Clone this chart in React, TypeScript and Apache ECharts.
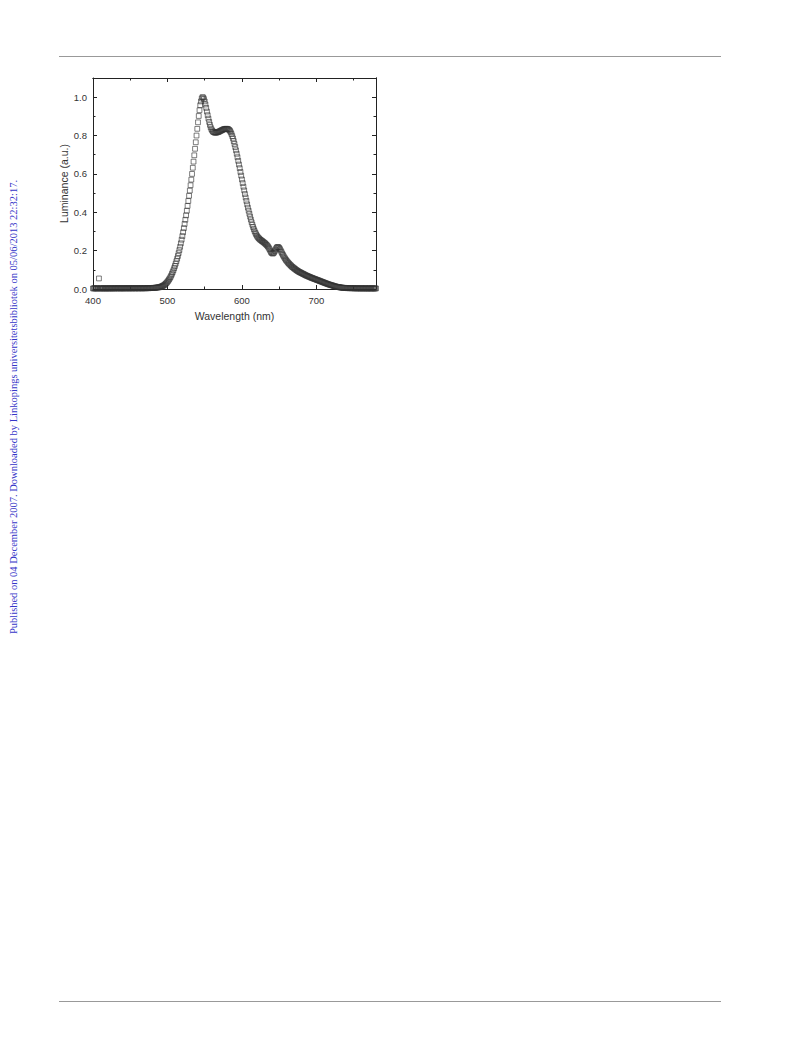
import React, { useEffect, useRef } from "react";
import * as echarts from "echarts";

// Sampling grid: 1 nm steps from 400 nm
const startNm = 400;
const stepNm = 1;

// Luminance (a.u.), one value per nm, 400 .. 780
const luminance: number[] = [
  // 400
  0.003, 0.003, 0.004, 0.003, 0.003, 0.004, 0.003, 0.003, 0.055, 0.003,
  // 410
  0.003, 0.004, 0.003, 0.003, 0.004, 0.003, 0.003, 0.004, 0.003, 0.003,
  // 420
  0.004, 0.003, 0.003, 0.004, 0.003, 0.004, 0.003, 0.003, 0.004, 0.003,
  // 430
  0.004, 0.004, 0.003, 0.004, 0.003, 0.004, 0.004, 0.003, 0.004, 0.003,
  // 440
  0.004, 0.003, 0.004, 0.004, 0.003, 0.004, 0.004, 0.003, 0.004, 0.004,
  // 450
  0.003, 0.004, 0.004, 0.003, 0.004, 0.004, 0.004, 0.003, 0.004, 0.004,
  // 460
  0.004, 0.003, 0.004, 0.004, 0.004, 0.004, 0.003, 0.004, 0.004, 0.004,
  // 470
  0.004, 0.004, 0.004, 0.005, 0.004, 0.004, 0.005, 0.005, 0.005, 0.005,
  // 480
  0.005, 0.006, 0.006, 0.006, 0.007, 0.007, 0.008, 0.008, 0.009, 0.009,
  // 490
  0.010, 0.012, 0.013, 0.015, 0.017, 0.019, 0.022, 0.025, 0.029, 0.033,
  // 500
  0.038, 0.043, 0.049, 0.055, 0.062, 0.070, 0.079, 0.088, 0.098, 0.109,
  // 510
  0.120, 0.132, 0.145, 0.158, 0.172, 0.187, 0.203, 0.220, 0.238, 0.257,
  // 520
  0.276, 0.296, 0.317, 0.339, 0.361, 0.384, 0.408, 0.433, 0.459, 0.486,
  // 530
  0.513, 0.541, 0.570, 0.600, 0.632, 0.664, 0.697, 0.731, 0.765, 0.800,
  // 540
  0.835, 0.869, 0.902, 0.932, 0.958, 0.978, 0.993, 1.000, 0.998, 0.990,
  // 550
  0.978, 0.962, 0.944, 0.925, 0.906, 0.888, 0.871, 0.856, 0.843, 0.833,
  // 560
  0.826, 0.821, 0.818, 0.816, 0.815, 0.815, 0.816, 0.817, 0.818, 0.820,
  // 570
  0.822, 0.824, 0.826, 0.828, 0.830, 0.832, 0.833, 0.834, 0.835, 0.835,
  // 580
  0.835, 0.834, 0.832, 0.829, 0.824, 0.817, 0.808, 0.797, 0.785, 0.771,
  // 590
  0.756, 0.740, 0.723, 0.705, 0.687, 0.668, 0.649, 0.630, 0.610, 0.591,
  // 600
  0.571, 0.552, 0.533, 0.514, 0.495, 0.477, 0.459, 0.441, 0.424, 0.408,
  // 610
  0.392, 0.377, 0.362, 0.348, 0.335, 0.323, 0.312, 0.302, 0.293, 0.285,
  // 620
  0.278, 0.272, 0.267, 0.263, 0.259, 0.256, 0.253, 0.250, 0.247, 0.244,
  // 630
  0.241, 0.238, 0.234, 0.230, 0.226, 0.221, 0.215, 0.208, 0.200, 0.193,
  // 640
  0.188, 0.185, 0.186, 0.190, 0.197, 0.205, 0.212, 0.217, 0.219, 0.218,
  // 650
  0.214, 0.208, 0.201, 0.193, 0.185, 0.178, 0.171, 0.164, 0.158, 0.152,
  // 660
  0.147, 0.142, 0.137, 0.133, 0.129, 0.125, 0.121, 0.117, 0.114, 0.111,
  // 670
  0.108, 0.105, 0.102, 0.099, 0.096, 0.094, 0.091, 0.089, 0.087, 0.085,
  // 680
  0.083, 0.081, 0.079, 0.077, 0.075, 0.073, 0.071, 0.069, 0.068, 0.066,
  // 690
  0.064, 0.063, 0.061, 0.059, 0.058, 0.056, 0.055, 0.053, 0.052, 0.050,
  // 700
  0.049, 0.047, 0.046, 0.044, 0.043, 0.041, 0.040, 0.038, 0.037, 0.035,
  // 710
  0.034, 0.032, 0.031, 0.029, 0.028, 0.026, 0.025, 0.024, 0.022, 0.021,
  // 720
  0.020, 0.019, 0.018, 0.016, 0.015, 0.014, 0.013, 0.012, 0.011, 0.010,
  // 730
  0.010, 0.009, 0.008, 0.008, 0.007, 0.007, 0.006, 0.006, 0.006, 0.005,
  // 740
  0.005, 0.005, 0.004, 0.005, 0.004, 0.004, 0.005, 0.004, 0.004, 0.004,
  // 750
  0.004, 0.003, 0.004, 0.004, 0.003, 0.004, 0.003, 0.004, 0.003, 0.003,
  // 760
  0.004, 0.003, 0.003, 0.004, 0.003, 0.003, 0.004, 0.003, 0.003, 0.003,
  // 770
  0.003, 0.004, 0.003, 0.003, 0.003, 0.004, 0.003, 0.003, 0.003, 0.003,
  // 780
  0.003,
];

const xTickValues = [400, 500, 600, 700];
const yTickValues = [0.0, 0.2, 0.4, 0.6, 0.8, 1.0];
const xTitle = "Wavelength (nm)";
const yTitle = "Luminance (a.u.)";
const sideNote =
  "Published on 04 December 2007. Downloaded by Linkopings universitetsbibliotek on 05/06/2013 22:32:17.";

const X_MIN = 400;
const X_MAX = 780;
const Y_MIN = 0;
const Y_MAX = 1.1;

const AXIS_COLOR = "#222";
const TEXT_COLOR = "#333";
const FONT = "'Liberation Sans', Arial, sans-serif";

function xAxisDef(position: "bottom" | "top", interval: number, tickLen: number, withLabels: boolean, withName: boolean) {
  return {
    type: "value",
    position,
    min: X_MIN,
    max: X_MAX,
    interval,
    name: withName ? xTitle : "",
    nameLocation: "middle",
    nameGap: 21,
    nameTextStyle: { fontFamily: FONT, fontSize: 10.5, color: TEXT_COLOR, verticalAlign: "top" },
    axisLine: { show: withLabels || position === "top", onZero: false, lineStyle: { color: AXIS_COLOR, width: 1 } },
    axisTick: { show: true, inside: true, length: tickLen, lineStyle: { color: AXIS_COLOR, width: 1 } },
    axisLabel: {
      show: withLabels,
      margin: 6,
      fontFamily: FONT,
      fontSize: 9.5,
      color: TEXT_COLOR,
      showMaxLabel: false,
      formatter: (v: number) => (xTickValues.indexOf(v) >= 0 ? String(v) : ""),
    },
    splitLine: { show: false },
  };
}

function yAxisDef(position: "left" | "right", interval: number, tickLen: number, withLabels: boolean, withName: boolean) {
  return {
    type: "value",
    position,
    min: Y_MIN,
    max: Y_MAX,
    interval,
    name: withName ? yTitle : "",
    nameLocation: "middle",
    nameGap: 21,
    nameTextStyle: { fontFamily: FONT, fontSize: 10.5, color: TEXT_COLOR },
    axisLine: { show: withLabels || position === "right", onZero: false, lineStyle: { color: AXIS_COLOR, width: 1 } },
    axisTick: { show: true, inside: true, length: tickLen, lineStyle: { color: AXIS_COLOR, width: 1 } },
    axisLabel: {
      show: withLabels,
      margin: 6,
      fontFamily: FONT,
      fontSize: 9.5,
      color: TEXT_COLOR,
      showMaxLabel: false,
      formatter: (v: number) => {
        const r = Math.round(v * 10) / 10;
        return yTickValues.some((t) => Math.abs(t - r) < 1e-9) && Math.abs(v - r) < 1e-6 ? r.toFixed(1) : "";
      },
    },
    splitLine: { show: false },
  };
}

export default function App() {
  const ref = useRef<HTMLDivElement>(null);

  useEffect(() => {
    if (!ref.current) return;
    const chart = echarts.init(ref.current, undefined, { renderer: "svg" });
    const points = luminance.map((v, i) => [startNm + i * stepNm, v]);

    chart.setOption({
      animation: false,
      backgroundColor: "#fff",
      grid: { left: 93, right: 417, top: 78, bottom: 750, containLabel: false },
      xAxis: [
        xAxisDef("bottom", 100, 4, true, true),
        xAxisDef("bottom", 50, 2.5, false, false),
        xAxisDef("top", 100, 4, false, false),
        xAxisDef("top", 50, 2.5, false, false),
      ],
      yAxis: [
        yAxisDef("left", 0.2, 4, true, true),
        yAxisDef("left", 0.1, 2.5, false, false),
        yAxisDef("right", 0.2, 4, false, false),
        yAxisDef("right", 0.1, 2.5, false, false),
      ],
      series: [
        {
          type: "scatter",
          xAxisIndex: 0,
          yAxisIndex: 0,
          data: points,
          symbol: "rect",
          symbolSize: 4.8,
          itemStyle: { color: "rgba(255,255,255,0)", borderColor: "#333", borderWidth: 0.8 },
          clip: true,
        },
      ],
      graphic: [
        {
          type: "line",
          shape: { x1: 59, y1: 56.5, x2: 721, y2: 56.5 },
          style: { stroke: "#999", lineWidth: 1 },
        },
        {
          type: "line",
          shape: { x1: 59, y1: 1001.5, x2: 721, y2: 1001.5 },
          style: { stroke: "#999", lineWidth: 1 },
        },
        {
          type: "text",
          x: 13,
          y: 407,
          rotation: Math.PI / 2,
          style: {
            text: sideNote,
            fill: "#3535c8",
            font: "10.5px 'Liberation Serif', 'Times New Roman', serif",
            align: "center",
            verticalAlign: "middle",
          },
        },
      ],
    });

    return () => chart.dispose();
  }, []);

  return (
    <div
      ref={ref}
      style={{ position: "absolute", left: 0, top: 0, width: 793, height: 1039, background: "#fff" }}
    />
  );
}
